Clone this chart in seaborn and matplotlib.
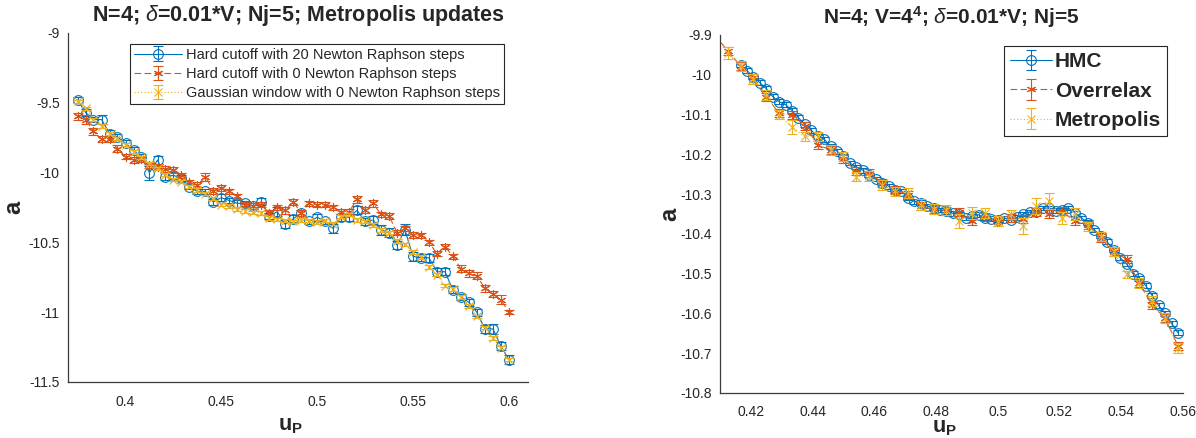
import numpy as np
import matplotlib
matplotlib.use("Agg")
import matplotlib.pyplot as plt
import seaborn as sns
from matplotlib.legend_handler import HandlerTuple
from matplotlib.ticker import FuncFormatter

# ---------------- data: left panel ----------------
x_left = [0.3750, 0.3792, 0.3833, 0.3875, 0.3917, 0.3958, 0.4000, 0.4042, 0.4083, 0.4125,
          0.4167, 0.4208, 0.4250, 0.4292, 0.4333, 0.4375, 0.4417, 0.4458, 0.4500, 0.4542,
          0.4583, 0.4625, 0.4667, 0.4708, 0.4750, 0.4792, 0.4833, 0.4875, 0.4917, 0.4958,
          0.5000, 0.5042, 0.5083, 0.5125, 0.5167, 0.5208, 0.5250, 0.5292, 0.5333, 0.5375,
          0.5417, 0.5458, 0.5500, 0.5542, 0.5583, 0.5625, 0.5667, 0.5708, 0.5750, 0.5792,
          0.5833, 0.5875, 0.5917, 0.5958, 0.6000]
hard20 = [-9.48, -9.57, -9.62, -9.62, -9.72, -9.745, -9.79, -9.84, -9.89, -10.00,
          -9.91, -10.03, -10.02, -10.04, -10.10, -10.135, -10.135, -10.21, -10.18, -10.20,
          -10.22, -10.22, -10.24, -10.21, -10.31, -10.28, -10.37, -10.33, -10.29, -10.35,
          -10.32, -10.35, -10.40, -10.32, -10.32, -10.27, -10.35, -10.34, -10.41, -10.43,
          -10.52, -10.41, -10.60, -10.61, -10.61, -10.71, -10.71, -10.84, -10.89, -10.93,
          -11.00, -11.12, -11.12, -11.24, -11.34]
hard20_err = [0.025, 0.025, 0.02, 0.03, 0.025, 0.02, 0.02, 0.02, 0.02, 0.05,
              0.03, 0.025, 0.025, 0.02, 0.02, 0.02, 0.02, 0.02, 0.025, 0.02,
              0.025, 0.02, 0.02, 0.025, 0.02, 0.03, 0.03, 0.025, 0.02, 0.02,
              0.025, 0.02, 0.03, 0.025, 0.025, 0.03, 0.025, 0.03, 0.035, 0.03,
              0.03, 0.04, 0.03, 0.025, 0.03, 0.03, 0.025, 0.025, 0.02, 0.025,
              0.025, 0.03, 0.035, 0.03, 0.03]
hard0 = [-9.595, -9.62, -9.705, -9.76, -9.76, -9.83, -9.885, -9.91, -9.905, -9.945,
         -9.96, -9.975, -9.98, -10.02, -10.07, -10.09, -10.03, -10.13, -10.11, -10.135,
         -10.17, -10.23, -10.24, -10.23, -10.29, -10.25, -10.27, -10.21, -10.29, -10.22,
         -10.23, -10.23, -10.25, -10.28, -10.28, -10.19, -10.27, -10.22, -10.30, -10.31,
         -10.43, -10.40, -10.445, -10.45, -10.50, -10.58, -10.53, -10.60, -10.69, -10.72,
         -10.74, -10.83, -10.87, -10.91, -11.00]
hard0_err = [0.025, 0.03, 0.025, 0.02, 0.02, 0.025, 0.02, 0.02, 0.02, 0.02,
             0.02, 0.02, 0.02, 0.02, 0.02, 0.02, 0.03, 0.02, 0.02, 0.02,
             0.02, 0.02, 0.02, 0.02, 0.02, 0.02, 0.025, 0.02, 0.02, 0.02,
             0.02, 0.02, 0.02, 0.02, 0.02, 0.025, 0.02, 0.025, 0.02, 0.02,
             0.02, 0.02, 0.02, 0.02, 0.02, 0.02, 0.02, 0.02, 0.025, 0.025,
             0.025, 0.025, 0.02, 0.03, 0.015]
gauss0 = [-9.49, -9.54, -9.62, -9.665, -9.72, -9.755, -9.80, -9.85, -9.89, -9.935,
          -9.97, -10.015, -10.05, -10.065, -10.10, -10.125, -10.15, -10.185, -10.23, -10.24,
          -10.26, -10.275, -10.285, -10.29, -10.325, -10.335, -10.345, -10.35, -10.34, -10.345,
          -10.355, -10.345, -10.365, -10.315, -10.30, -10.34, -10.35, -10.375, -10.41, -10.43,
          -10.49, -10.515, -10.57, -10.605, -10.675, -10.73, -10.81, -10.835, -10.89, -10.955,
          -11.03, -11.11, -11.185, -11.255, -11.34]
gauss0_err = [0.012] * 55

# ---------------- data: right panel ----------------
x_hmc = [0.4167, 0.4188, 0.4208, 0.4229, 0.4250, 0.4271, 0.4292, 0.4313, 0.4333, 0.4354,
         0.4375, 0.4396, 0.4417, 0.4438, 0.4458, 0.4479, 0.4500, 0.4521, 0.4542, 0.4563,
         0.4583, 0.4604, 0.4625, 0.4646, 0.4667, 0.4688, 0.4708, 0.4729, 0.4750, 0.4771,
         0.4792, 0.4813, 0.4833, 0.4854, 0.4875, 0.4896, 0.4917, 0.4938, 0.4958, 0.4979,
         0.5000, 0.5021, 0.5042, 0.5063, 0.5083, 0.5104, 0.5125, 0.5146, 0.5167, 0.5188,
         0.5208, 0.5229, 0.5250, 0.5271, 0.5292, 0.5313, 0.5333, 0.5354, 0.5375, 0.5396,
         0.5417, 0.5438, 0.5458, 0.5479, 0.5500, 0.5521, 0.5542, 0.5563, 0.5583]
hmc = [-9.975, -9.99, -10.005, -10.02, -10.035, -10.055, -10.068, -10.075, -10.09, -10.108,
       -10.125, -10.14, -10.155, -10.162, -10.18, -10.192, -10.205, -10.222, -10.232, -10.24,
       -10.252, -10.262, -10.272, -10.28, -10.29, -10.292, -10.31, -10.318, -10.322, -10.33,
       -10.335, -10.34, -10.343, -10.348, -10.35, -10.36, -10.355, -10.352, -10.36, -10.362,
       -10.365, -10.36, -10.365, -10.358, -10.35, -10.345, -10.345, -10.335, -10.335, -10.342,
       -10.34, -10.335, -10.348, -10.36, -10.372, -10.39, -10.405, -10.42, -10.44, -10.46,
       -10.475, -10.5, -10.512, -10.53, -10.555, -10.58, -10.6, -10.625, -10.648]
hmc_err = [0.006] * 69

x_over = [0.4083, 0.4125, 0.4167, 0.4208, 0.4250, 0.4292, 0.4333, 0.4375, 0.4417, 0.4458,
          0.4500, 0.4542, 0.4583, 0.4625, 0.4667, 0.4708, 0.4750, 0.4792, 0.4833, 0.4875,
          0.4917, 0.4958, 0.5000, 0.5042, 0.5083, 0.5125, 0.5167, 0.5208, 0.5250, 0.5292,
          0.5333, 0.5375, 0.5417, 0.5458, 0.5500, 0.5542, 0.5583]
overrelax = [-9.90, -9.94, -9.978, -10.013, -10.055, -10.097, -10.10, -10.128, -10.176, -10.189,
             -10.212, -10.243, -10.246, -10.272, -10.289, -10.302, -10.331, -10.338, -10.342, -10.345,
             -10.368, -10.357, -10.371, -10.36, -10.362, -10.345, -10.351, -10.343, -10.368, -10.377,
             -10.41, -10.446, -10.463, -10.523, -10.58, -10.611, -10.681]
overrelax_err = [0.01] * 37

x_metro = [0.4125, 0.4167, 0.4208, 0.4250, 0.4292, 0.4333, 0.4375, 0.4417, 0.4458,
           0.4500, 0.4542, 0.4583, 0.4625, 0.4667, 0.4708, 0.4750, 0.4792, 0.4833, 0.4875,
           0.4917, 0.4958, 0.5000, 0.5042, 0.5083, 0.5125, 0.5167, 0.5208, 0.5250, 0.5292,
           0.5333, 0.5375, 0.5417, 0.5458, 0.5500, 0.5542, 0.5583]
metropolis = [-9.946, -9.978, -10.011, -10.051, -10.10, -10.132, -10.155, -10.155, -10.189,
              -10.205, -10.256, -10.254, -10.277, -10.293, -10.297, -10.327, -10.338, -10.34, -10.368,
              -10.347, -10.347, -10.368, -10.351, -10.381, -10.33, -10.318, -10.36, -10.351, -10.381,
              -10.406, -10.444, -10.502, -10.523, -10.569, -10.611, -10.687]
metropolis_err = [0.015, 0.012, 0.012, 0.012, 0.012, 0.018, 0.012, 0.012, 0.012,
                  0.012, 0.012, 0.012, 0.012, 0.012, 0.012, 0.014, 0.012, 0.012, 0.018,
                  0.015, 0.012, 0.012, 0.012, 0.02, 0.02, 0.02, 0.015, 0.015, 0.012,
                  0.012, 0.012, 0.008, 0.012, 0.012, 0.012, 0.012]

labels_left = ["Hard cutoff with 20 Newton Raphson steps",
               "Hard cutoff with 0 Newton Raphson steps",
               "Gaussian window with 0 Newton Raphson steps"]
labels_right = ["HMC", "Overrelax", "Metropolis"]
xticks_left = [0.4, 0.45, 0.5, 0.55, 0.6]
yticks_left = [-11.5, -11, -10.5, -10, -9.5, -9]
xticks_right = [0.42, 0.44, 0.46, 0.48, 0.5, 0.52, 0.54, 0.56]
yticks_right = [-10.8, -10.7, -10.6, -10.5, -10.4, -10.3, -10.2, -10.1, -10, -9.9]

# ---------------- style ----------------
sns.set_theme(style="white")
plt.rcParams.update({
    "font.family": ["Liberation Sans", "DejaVu Sans"],
    "axes.unicode_minus": False,
    "mathtext.fontset": "custom",
    "mathtext.rm": "Liberation Sans",
    "mathtext.it": "Liberation Sans:italic",
    "mathtext.bf": "Liberation Sans:bold",
})

BLUE = "#0072BD"
ORANGE = "#D95319"
YELLOW = "#EDB120"
AXC = "#3a3a3a"
ASTER = (6, 2, 0)
DASHED = (0, (6, 3))
DOTTED = (0, (1, 2))

fig = plt.figure(figsize=(11.96, 4.38), dpi=100)
axL = fig.add_axes([68 / 1196, 1 - 382 / 438, 460 / 1196, 349 / 438])
axR = fig.add_axes([720 / 1196, 1 - 393 / 438, 463 / 1196, 358 / 438])


def draw(ax, x, y, err, color, ls, marker, ms, mfc):
    sns.lineplot(x=x, y=y, ax=ax, color=color, linestyle=ls, linewidth=0.8,
                 marker=marker, markersize=ms, markerfacecolor=mfc,
                 markeredgecolor=color, markeredgewidth=0.8,
                 estimator=None, sort=False, legend=False)
    line = ax.lines[-1]
    line.set_color(color)
    eb = ax.errorbar(x, y, yerr=err, fmt="none", ecolor=color, elinewidth=0.8,
                     capsize=3.5, capthick=0.8)
    return (line, eb)


hL = [draw(axL, x_left, hard20, hard20_err, BLUE, "-", "o", 7, "none"),
      draw(axL, x_left, hard0, hard0_err, ORANGE, DASHED, ASTER, 6.5, ORANGE),
      draw(axL, x_left, gauss0, gauss0_err, YELLOW, DOTTED, "x", 5.5, YELLOW)]

hR = [draw(axR, x_hmc, hmc, hmc_err, BLUE, "-", "o", 7, "none"),
      draw(axR, x_over, overrelax, overrelax_err, ORANGE, DASHED, ASTER, 6.5, ORANGE),
      draw(axR, x_metro, metropolis, metropolis_err, YELLOW, DOTTED, "x", 5.5, YELLOW)]

fmt = FuncFormatter(lambda v, p: "%g" % round(v, 4))

for ax in (axL, axR):
    for s in ("top", "right"):
        ax.spines[s].set_visible(False)
    for s in ("left", "bottom"):
        ax.spines[s].set_color(AXC)
        ax.spines[s].set_linewidth(0.9)
    ax.tick_params(direction="in", length=4, width=0.8, color=AXC,
                   labelsize=10, labelcolor="#262626")
    ax.tick_params(axis="x", pad=9)
    ax.tick_params(axis="y", pad=6)
    ax.xaxis.set_major_formatter(fmt)
    ax.yaxis.set_major_formatter(fmt)
    ax.grid(False)
    ax.set_facecolor("white")

axL.set_xlim(0.37, 0.61)
axL.set_ylim(-11.5, -9)
axL.set_xticks(xticks_left)
axL.set_yticks(yticks_left)
axR.set_xlim(0.41, 0.56)
axR.set_ylim(-10.8, -9.9)
axR.set_xticks(xticks_right)
axR.set_yticks(yticks_right)

axL.set_title(r"N=4; $\delta$=0.01*V; Nj=5; Metropolis updates",
              fontsize=15.5, fontweight="bold", pad=9)
axR.set_title(r"N=4; V=4$^{\mathbf{4}}$; $\delta$=0.01*V; Nj=5",
              fontsize=15, fontweight="bold", pad=8)

axL.set_xlabel(r"$\mathbf{u_P}$", fontsize=15.5)
axR.set_xlabel(r"$\mathbf{u_P}$", fontsize=15.5)
axL.set_ylabel(r"$\mathbf{a}$", fontsize=17)
axR.set_ylabel(r"$\mathbf{a}$", fontsize=17)
axL.xaxis.set_label_coords(0.483, -0.094)
axR.xaxis.set_label_coords(0.485, -0.068)
axL.yaxis.set_label_coords(-0.092, 0.5)
axR.yaxis.set_label_coords(-0.083, 0.5)

legL = axL.legend(hL, labels_left, loc="upper left", bbox_to_anchor=(0.135, 0.968),
                  borderaxespad=0, fontsize=10.5, handlelength=3.3, handletextpad=0.3,
                  labelspacing=0.35, borderpad=0.25, frameon=True, fancybox=False,
                  framealpha=1, edgecolor="#262626",
                  handler_map={tuple: HandlerTuple(ndivide=1)})
legR = axR.legend(hR, labels_right, loc="upper left", bbox_to_anchor=(0.613, 0.969),
                  borderaxespad=0, handlelength=2.0, handletextpad=0.15,
                  labelspacing=0.5, borderpad=0.3, frameon=True, fancybox=False,
                  framealpha=1, edgecolor="#262626",
                  prop={"size": 15, "weight": "bold"},
                  handler_map={tuple: HandlerTuple(ndivide=1)})
for leg in (legL, legR):
    leg.get_frame().set_linewidth(0.8)

fig.savefig("out.png", dpi=100, facecolor="white")
